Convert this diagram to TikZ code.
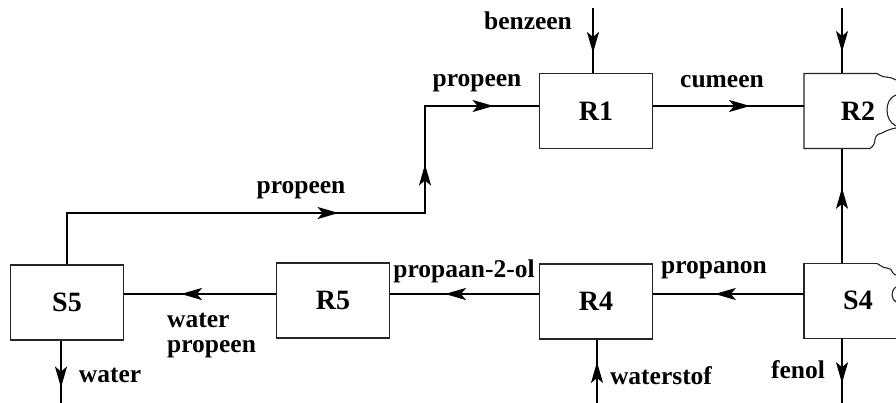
\documentclass[tikz,border=0pt]{standalone}
\usepackage{fontspec}
\setmainfont{Liberation Serif}
\usetikzlibrary{arrows.meta,decorations.markings}
\begin{document}
\begin{tikzpicture}[x=1pt,y=-1pt,
  box/.style={draw=black!85,line width=1.1pt,minimum width=113pt,minimum height=75pt,inner sep=0pt,font=\fontsize{28}{30}\selectfont\bfseries},
  hidbox/.style={minimum width=108pt,minimum height=75pt,inner sep=0pt,font=\fontsize{28}{30}\selectfont\bfseries},
  lbl/.style={font=\fontsize{25.5}{25}\selectfont\bfseries,inner sep=0pt},
  flow/.style={line width=1.8pt},
  tipat/.style={postaction={decorate,decoration={markings,mark=at position #1 with {\arrow{Stealth[length=21pt,width=12pt,inset=5pt]}}}}},
  tear/.style={line width=1.1pt,draw=black!85}]
\useasboundingbox (0,0) rectangle (896,403);
% rows and columns
\coordinate (row1) at (0,106);
\coordinate (row2) at (0,294);
\coordinate (col) at (842,0);
% boxes
\node[box] (R1) at (596,111) {R1};
\node[box] (R4) at (596,301.5) {R4};
\node[box] (R5) at (333,300.5) {R5};
\node[box] (S5) at (67,302.5) {S5};
\node[hidbox] (R2) at (858,111) {R2};
\node[hidbox] (S4) at (858,300.5) {S4};
% torn outline of R2
\draw[tear] (877,73.5) -- (804,73.5) -- (804,148.5) -- (870,148.5)
  .. controls (874,146) and (875,142) .. (875,139)
  .. controls (876,135) and (879,133) .. (882,133)
  .. controls (886,131) and (890,129) .. (896,128);
\draw[tear] (877,73.5) .. controls (880,75) and (882,77) .. (886,77)
  .. controls (889,77) and (892,78) .. (896,80);
\draw[tear] (896,95) .. controls (889,98) and (887,104) .. (887,110)
  .. controls (887,117) and (890,123) .. (896,126);
% torn outline of S4
\draw[tear] (877,263.5) -- (804,263.5) -- (804,338.5) -- (896,338.5);
\draw[tear] (877,263.5) .. controls (880,265) and (883,268) .. (887,268)
  .. controls (890,268) and (892,270) .. (893,273)
  .. controls (894,274) and (895,275) .. (896,275);
\draw[tear] (896,287) .. controls (893,289) and (892,292) .. (892,295)
  .. controls (892,298) and (894,301) .. (896,302);
% free ends
\coordinate (benzin) at (593,8);
\coordinate (R2in) at (842,8);
\coordinate (k1) at (425,213);
\coordinate (fenout) at (842,403);
\coordinate (waterout) at (61,403);
\coordinate (h2in) at (597,403);
% connectors
\draw[flow,tipat=45pt] (benzin) -- (benzin |- R1.north);
\draw[flow,tipat=44pt] (R2in) -- (R2in |- R2.north);
\draw[flow,tipat=323pt,tipat=458pt,tipat=585pt] (S5.north) |- (k1) |- (R1.west |- row1);
\draw[flow,tipat=97pt] (R1.east |- row1) -- (R2.west |- row1);
\draw[flow,tipat=75pt] (col |- S4.north) -- (col |- R2.south);
\draw[flow,tipat=45pt] (col |- S4.south) -- (fenout);
\draw[flow,tipat=89pt] (S4.west |- row2) -- (R4.east |- row2);
\draw[flow,tipat=94pt] (R4.west |- row2) -- (R5.east |- row2);
\draw[flow,tipat=95pt] (R5.west |- row2) -- (S5.east |- row2);
\draw[flow,tipat=47pt] (waterout |- S5.south) -- (waterout);
\draw[flow,tipat=41pt] (h2in) -- (h2in |- R4.south);
% labels
\node[lbl] (lbenz) at (528,21) {benzeen};
\node[lbl] (lprop1) at (477,83) {propeen};
\node[lbl] (lcum) at (722,82) {cumeen};
\node[lbl] (lprop2) at (301,190) {propeen};
\node[lbl] (lp2ol) at (464,271) {propaan-2-ol};
\node[lbl] (lpropanon) at (714,270) {propanon};
\node[lbl,anchor=west,align=left] (lwp) at (167,336) {water\\propeen};
\node[lbl] (lwater) at (110,375) {water};
\node[lbl] (lh2) at (661,376) {waterstof};
\node[lbl] (lfenol) at (798,370) {fenol};
\end{tikzpicture}
\end{document}
